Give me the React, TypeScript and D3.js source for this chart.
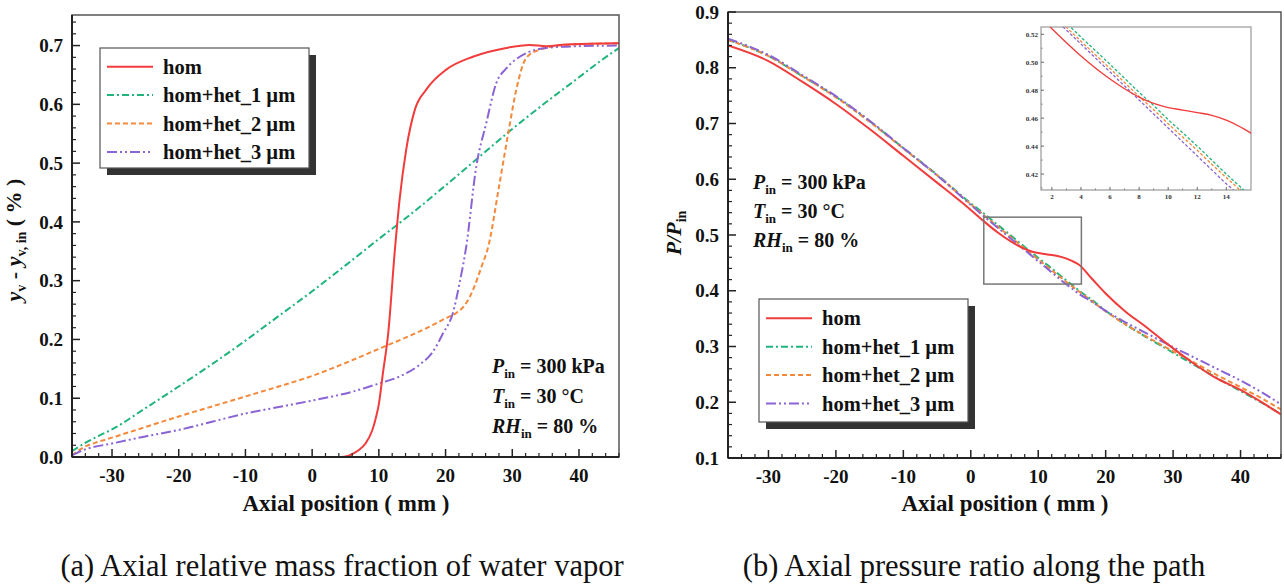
import React from 'react';
import * as d3 from 'd3';

// ---------- data ----------
const SERIES_NAMES = ['hom', 'hom+het_1 µm', 'hom+het_2 µm', 'hom+het_3 µm'];
const COLORS = ['#f23b3b', '#1fb47c', '#f5893b', '#8a64d4'];
const DASHES = ['', '7,3,2,3', '5,3', '10,3,2,3,2,3'];

const X_TICKS = [-30, -20, -10, 0, 10, 20, 30, 40];
const A_Y_TICKS = [0, 0.1, 0.2, 0.3, 0.4, 0.5, 0.6, 0.7];
const B_Y_TICKS = [0.1, 0.2, 0.3, 0.4, 0.5, 0.6, 0.7, 0.8, 0.9];
const INSET_X_TICKS = [2, 4, 6, 8, 10, 12, 14];
const INSET_Y_TICKS = [0.42, 0.44, 0.46, 0.48, 0.5, 0.52];

// (a) relative mass fraction of water vapor
const A_HOM_X = [-36, 4, 5, 6, 7, 8, 9, 9.6, 10, 10.6, 11.4, 12.4, 13.1, 14.1, 15.4, 17.1, 20.1, 24.1, 29.1, 32.6, 35.1, 38.1, 46];
const A_HOM_Y = [0, 0, 0.001, 0.005, 0.012, 0.023, 0.045, 0.069, 0.09, 0.142, 0.21, 0.352, 0.437, 0.523, 0.591, 0.625, 0.659, 0.681, 0.696, 0.701, 0.699, 0.702, 0.704];
const A_HET1_X = [-36, -34, -32, -30, -25, -20, -15, -10, -5, 0, 5, 10, 15, 20, 25, 30, 35, 40, 43, 46];
const A_HET1_Y = [0.01, 0.024, 0.036, 0.047, 0.083, 0.12, 0.158, 0.198, 0.24, 0.282, 0.326, 0.371, 0.415, 0.462, 0.51, 0.558, 0.603, 0.646, 0.672, 0.696];
const A_HET2_X = [-36, -34, -32, -30, -25, -20, -15, -10, -5, 0, 5, 10, 15, 18, 20, 21.6, 23.1, 24.1, 25.4, 26.4, 28.1, 29.4, 30.6, 32.1, 34.1, 38.1, 46];
const A_HET2_Y = [0.003, 0.018, 0.026, 0.033, 0.051, 0.069, 0.086, 0.103, 0.12, 0.138, 0.16, 0.184, 0.208, 0.224, 0.236, 0.245, 0.262, 0.284, 0.324, 0.358, 0.466, 0.551, 0.625, 0.679, 0.693, 0.701, 0.704];
const A_HET3_X = [-36, -34, -30, -25, -20, -15, -10, -5, 0, 3, 6, 10, 13.1, 16.1, 18.1, 19.6, 21.1, 22.1, 23.1, 24.6, 26.1, 27.6, 29.1, 32.1, 35.1, 40, 46];
const A_HET3_Y = [0.003, 0.013, 0.023, 0.035, 0.046, 0.06, 0.074, 0.085, 0.096, 0.103, 0.111, 0.125, 0.137, 0.157, 0.179, 0.21, 0.245, 0.296, 0.358, 0.494, 0.568, 0.636, 0.661, 0.687, 0.696, 0.699, 0.7];

// (b) pressure ratio
const B_X = [-36, -30, -25, -20, -15, -10, -5, 0, 2, 4, 6, 7, 8, 9, 10, 11, 12, 13, 14, 15, 16, 18, 20, 23, 26, 29, 33, 36, 40, 43, 46];
const B_HOM = [0.84, 0.812, 0.775, 0.735, 0.69, 0.642, 0.594, 0.545, 0.524, 0.5045, 0.488, 0.481, 0.475, 0.4705, 0.4676, 0.4658, 0.464, 0.462, 0.4586, 0.4535, 0.447, 0.421, 0.395, 0.362, 0.335, 0.306, 0.27, 0.246, 0.222, 0.201, 0.178];
const B_HET1 = [0.85, 0.821, 0.785, 0.748, 0.704, 0.656, 0.608, 0.557, 0.538, 0.518, 0.4985, 0.4885, 0.4785, 0.469, 0.459, 0.4495, 0.44, 0.43, 0.42, 0.4105, 0.401, 0.383, 0.364, 0.339, 0.317, 0.296, 0.268, 0.247, 0.22, 0.2, 0.179];
const B_HET2 = [0.85, 0.821, 0.785, 0.747, 0.703, 0.655, 0.607, 0.555, 0.535, 0.515, 0.4955, 0.4855, 0.4755, 0.466, 0.456, 0.4465, 0.437, 0.427, 0.4175, 0.408, 0.399, 0.381, 0.363, 0.339, 0.318, 0.298, 0.272, 0.252, 0.227, 0.208, 0.187];
const B_HET3 = [0.852, 0.823, 0.787, 0.749, 0.705, 0.656, 0.607, 0.554, 0.533, 0.513, 0.493, 0.483, 0.473, 0.463, 0.453, 0.443, 0.433, 0.423, 0.413, 0.404, 0.395, 0.38, 0.364, 0.343, 0.324, 0.305, 0.281, 0.263, 0.239, 0.219, 0.196];

const ZOOM_X = [1.93, 16.4];
const ZOOM_Y = [0.412, 0.532];

const FONT = "'Liberation Serif', 'Times New Roman', serif";

type Pt = [number, number];
const zip = (xs: number[], ys: number[]): Pt[] => xs.map((x, i) => [x, ys[i]]);

const A_SERIES: Pt[][] = [zip(A_HOM_X, A_HOM_Y), zip(A_HET1_X, A_HET1_Y), zip(A_HET2_X, A_HET2_Y), zip(A_HET3_X, A_HET3_Y)];
const B_SERIES: Pt[][] = [zip(B_X, B_HOM), zip(B_X, B_HET1), zip(B_X, B_HET2), zip(B_X, B_HET3)];

function Axes({ x, y, xTicks, yTicks, yFmt, minorY }: any) {
  const [x0, x1] = x.range();
  const [y0, y1] = y.range(); // y0 bottom
  const xMinor = d3.range(-36, 46.01, 2).filter((v: number) => !xTicks.includes(v));
  const [dy0, dy1] = y.domain();
  const yMinor = d3.range(Math.round(dy0 / minorY), Math.round(dy1 / minorY) + 1)
    .map((k: number) => +(k * minorY).toFixed(4))
    .filter((v: number) => v >= dy0 && v <= dy1 && !yTicks.some((t: number) => Math.abs(t - v) < 1e-6));
  return (
    <g>
      <rect x={x0} y={y1} width={x1 - x0} height={y0 - y1} fill="none" stroke="#555" strokeWidth={1.5} />
      <line x1={x0} x2={x0} y1={y1} y2={y0} stroke="#222" strokeWidth={2} />
      <line x1={x0} x2={x1} y1={y0} y2={y0} stroke="#222" strokeWidth={2} />
      {xTicks.map((t: number) => (
        <g key={'xt' + t}>
          <line x1={x(t)} x2={x(t)} y1={y0} y2={y0 - 8} stroke="#222" strokeWidth={1.5} />
          <text x={x(t)} y={y0 + 25} textAnchor="middle" fontFamily={FONT} fontWeight="bold" fontSize={19} fill="#111">{t}</text>
        </g>
      ))}
      {xMinor.map((t: number) => (
        <line key={'xm' + t} x1={x(t)} x2={x(t)} y1={y0} y2={y0 - 4} stroke="#222" strokeWidth={1.2} />
      ))}
      {yTicks.map((t: number) => (
        <g key={'yt' + t}>
          <line x1={x0} x2={x0 + 8} y1={y(t)} y2={y(t)} stroke="#222" strokeWidth={1.5} />
          <text x={x0 - 9} y={y(t)} dy="0.35em" textAnchor="end" fontFamily={FONT} fontWeight="bold" fontSize={19} fill="#111">{yFmt(t)}</text>
        </g>
      ))}
      {yMinor.map((t: number) => (
        <line key={'ym' + t} x1={x0} x2={x0 + 4} y1={y(t)} y2={y(t)} stroke="#222" strokeWidth={1.2} />
      ))}
    </g>
  );
}

function Legend({ x, y, w, h, lineY0 }: any) {
  return (
    <g>
      <rect x={x + 7} y={y + 7} width={w} height={h} fill="#333" />
      <rect x={x} y={y} width={w} height={h} fill="#fff" stroke="#555" strokeWidth={1.2} />
      {SERIES_NAMES.map((name, i) => {
        const ly = lineY0 + i * 28.4;
        return (
          <g key={name}>
            <line x1={x + 7} x2={x + 53} y1={ly} y2={ly} stroke={COLORS[i]} strokeWidth={2} strokeDasharray={DASHES[i]} />
            <text x={x + 63} y={ly + 7} fontFamily={FONT} fontWeight="bold" fontSize={20.5} fill="#111">{name}</text>
          </g>
        );
      })}
    </g>
  );
}

function Conditions({ x, y, gap }: any) {
  const sub = (s: string) => [
    <tspan key="s" fontSize={13} dy={5}>{s}</tspan>,
  ];
  return (
    <g fontFamily={FONT} fontWeight="bold" fontSize={20} fill="#111">
      <text x={x} y={y}>
        <tspan fontStyle="italic">P</tspan>{sub('in')}<tspan dy={-5}> = 300 kPa</tspan>
      </text>
      <text x={x} y={y + gap}>
        <tspan fontStyle="italic">T</tspan>{sub('in')}<tspan dy={-5}> = 30 °C</tspan>
      </text>
      <text x={x} y={y + 2 * gap}>
        <tspan fontStyle="italic">RH</tspan>{sub('in')}<tspan dy={-5}> = 80 %</tspan>
      </text>
    </g>
  );
}

export default function App() {
  const W = 1284, H = 585;
  // panel a
  const xa = d3.scaleLinear().domain([-36, 46]).range([72, 619]);
  const ya = d3.scaleLinear().domain([0, 0.752]).range([457, 15]);
  // panel b
  const xb = d3.scaleLinear().domain([-36, 46]).range([728, 1281]);
  const yb = d3.scaleLinear().domain([0.1, 0.9]).range([458, 12]);
  // inset
  const xi = d3.scaleLinear().domain([1.25, 15.7]).range([1041, 1251]);
  const yi = d3.scaleLinear().domain([0.4086, 0.5252]).range([190, 27]);

  const lineA = d3.line<Pt>().x(d => xa(d[0])).y(d => ya(d[1])).curve(d3.curveMonotoneX);
  const lineB = d3.line<Pt>().x(d => xb(d[0])).y(d => yb(d[1])).curve(d3.curveMonotoneX);
  const lineI = d3.line<Pt>().x(d => xi(d[0])).y(d => yi(d[1])).curve(d3.curveMonotoneX);

  const drawOrder = [1, 2, 3, 0];
  const inXMinor = d3.range(1, 16, 1).filter((v: number) => v % 2 === 1 && v > 1.25);
  const inYMinor = [0.41, 0.43, 0.45, 0.47, 0.49, 0.51];

  return (
    <svg width={W} height={H} style={{ position: 'absolute', left: 0, top: 0, background: '#fff' }}>
      <defs>
        <clipPath id="clipA"><rect x={72} y={15} width={547} height={442} /></clipPath>
        <clipPath id="clipB"><rect x={728} y={12} width={553} height={446} /></clipPath>
        <clipPath id="clipI"><rect x={1041} y={27} width={210} height={163} /></clipPath>
      </defs>
      <rect x={0} y={0} width={W} height={H} fill="#fff" />

      {/* ---------- panel a ---------- */}
      <g clipPath="url(#clipA)">
        {drawOrder.map(i => (
          <path key={'a' + i} d={lineA(A_SERIES[i]) || ''} fill="none" stroke={COLORS[i]} strokeWidth={2} strokeDasharray={DASHES[i]} />
        ))}
      </g>
      <Axes x={xa} y={ya} xTicks={X_TICKS} yTicks={A_Y_TICKS} yFmt={(t: number) => t.toFixed(1)} minorY={0.02} />
      <Legend x={100} y={48} w={209} h={120} lineY0={66.7} />
      <Conditions x={492} y={373} gap={30} />
      <text x={346} y={511} textAnchor="middle" fontFamily={FONT} fontWeight="bold" fontSize={23} fill="#111">Axial position ( mm )</text>
      <text transform="translate(21,240) rotate(-90)" textAnchor="middle" fontFamily={FONT} fontWeight="bold" fontSize={22} fill="#111">
        <tspan fontStyle="italic">y</tspan><tspan fontSize={14} dy={5}>v</tspan><tspan dy={-5}> - </tspan>
        <tspan fontStyle="italic">y</tspan><tspan fontSize={14} dy={5}>v, in</tspan><tspan dy={-5}> ( % )</tspan>
      </text>
      <text x={342} y={576} textAnchor="middle" fontFamily={FONT} fontSize={30.5} fill="#111">(a) Axial relative mass fraction of water vapor</text>

      {/* ---------- panel b ---------- */}
      <g clipPath="url(#clipB)">
        {drawOrder.map(i => (
          <path key={'b' + i} d={lineB(B_SERIES[i]) || ''} fill="none" stroke={COLORS[i]} strokeWidth={2} strokeDasharray={DASHES[i]} />
        ))}
      </g>
      <Axes x={xb} y={yb} xTicks={X_TICKS} yTicks={B_Y_TICKS} yFmt={(t: number) => t.toFixed(1)} minorY={0.02} />
      <rect x={xb(ZOOM_X[0])} y={yb(ZOOM_Y[1])} width={xb(ZOOM_X[1]) - xb(ZOOM_X[0])} height={yb(ZOOM_Y[0]) - yb(ZOOM_Y[1])} fill="none" stroke="#777" strokeWidth={1.5} />
      <Legend x={759} y={299} w={209} h={123} lineY0={318.3} />
      <Conditions x={753} y={189} gap={29} />
      <text x={1005} y={511} textAnchor="middle" fontFamily={FONT} fontWeight="bold" fontSize={23} fill="#111">Axial position ( mm )</text>
      <text transform="translate(681,233) rotate(-90)" textAnchor="middle" fontFamily={FONT} fontWeight="bold" fontStyle="italic" fontSize={22} fill="#111">
        P/P<tspan fontSize={14} dy={5} fontStyle="normal">in</tspan>
      </text>
      <text x={974} y={576} textAnchor="middle" fontFamily={FONT} fontSize={30.5} fill="#111">(b) Axial pressure ratio along the path</text>

      {/* ---------- inset ---------- */}
      <rect x={1041} y={27} width={210} height={163} fill="#fff" stroke="#999" strokeWidth={1.2} />
      <g clipPath="url(#clipI)">
        {drawOrder.map(i => (
          <path key={'i' + i} d={lineI(B_SERIES[i]) || ''} fill="none" stroke={COLORS[i]} strokeWidth={1.3} strokeDasharray={i === 0 ? '' : '3,2'} />
        ))}
      </g>
      {INSET_X_TICKS.map(t => (
        <g key={'ix' + t}>
          <line x1={xi(t)} x2={xi(t)} y1={190} y2={187} stroke="#666" strokeWidth={1} />
          <text x={xi(t)} y={199} textAnchor="middle" fontFamily={FONT} fontWeight="bold" fontSize={7} fill="#333">{t}</text>
        </g>
      ))}
      {inXMinor.map(t => (
        <line key={'ixm' + t} x1={xi(t)} x2={xi(t)} y1={190} y2={188.5} stroke="#666" strokeWidth={0.8} />
      ))}
      {INSET_Y_TICKS.map(t => (
        <g key={'iy' + t}>
          <line x1={1041} x2={1044} y1={yi(t)} y2={yi(t)} stroke="#666" strokeWidth={1} />
          <text x={1038} y={yi(t)} dy="0.35em" textAnchor="end" fontFamily={FONT} fontWeight="bold" fontSize={7} fill="#333">{t.toFixed(2)}</text>
        </g>
      ))}
      {inYMinor.map(t => (
        <line key={'iym' + t} x1={1041} x2={1042.5} y1={yi(t)} y2={yi(t)} stroke="#666" strokeWidth={0.8} />
      ))}
    </svg>
  );
}
